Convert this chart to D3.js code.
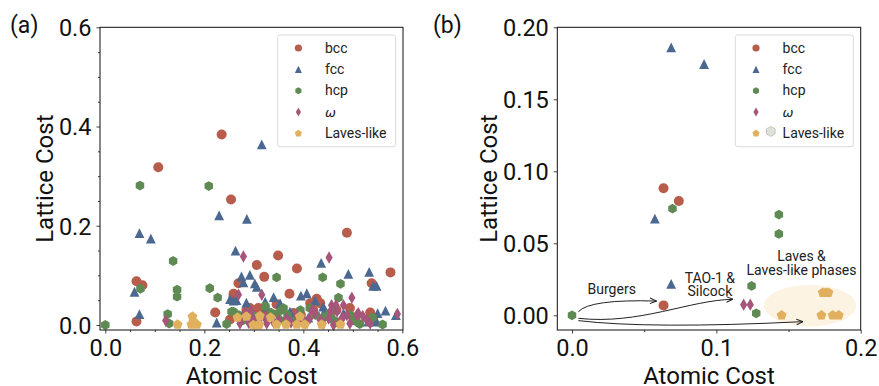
<!DOCTYPE html>
<html>
<head>
<meta charset="utf-8">
<script src="https://cdn.jsdelivr.net/npm/d3@7"></script>
<style>
  body { margin: 0; background: #fff; }
  svg { display: block; font-family: Roboto, "DejaVu Sans", sans-serif; }
  .tick text { fill: #111; }
</style>
</head>
<body>
<svg id="chart" width="879" height="386"></svg>
<script>
// ---- data: [atomic cost, lattice cost] ----
const seriesNames = ["bcc", "fcc", "hcp", "ω", "Laves-like"];

const bccA = [[0.235,0.384],[0.107,0.318],[0.254,0.253],[0.488,0.186],[0.349,0.140],[0.387,0.114],[0.306,0.121],[0.321,0.097],[0.576,0.106],[0.538,0.084],[0.063,0.088],[0.075,0.080],[0.269,0.084],[0.372,0.063],[0.259,0.063],[0.222,0.025],[0.063,0.007],[0.427,0.053],[0.346,0.042],[0.535,0.025],[0.292,0.034],[0.309,0.034],[0.252,0.011],[0.434,0.044],[0.494,0.034],[0.467,0.030],[0.380,0.024],[0.541,0.010],[0.259,0.024],[0.414,0.044],[0.259,0.057],[0.330,0.020],[0.455,0.015],[0.398,0.008],[0.285,0.030],[0.318,0.028],[0.395,0.020],[0.420,0.030],[0.505,0.015],[0.470,0.005]];
const fccA = [[0.316,0.364],[0.230,0.221],[0.286,0.214],[0.069,0.185],[0.092,0.174],[0.263,0.150],[0.436,0.125],[0.533,0.107],[0.491,0.103],[0.292,0.101],[0.275,0.098],[0.302,0.084],[0.279,0.086],[0.306,0.077],[0.548,0.079],[0.541,0.079],[0.059,0.067],[0.407,0.064],[0.395,0.059],[0.340,0.056],[0.252,0.052],[0.424,0.049],[0.323,0.047],[0.265,0.050],[0.069,0.022],[0.440,0.037],[0.550,0.024],[0.566,0.029],[0.225,0.005],[0.587,0.020],[0.326,0.037],[0.353,0.044],[0.373,0.027],[0.481,0.024],[0.531,0.007],[0.444,0.030],[0.259,0.049],[0.548,0.007],[0.300,0.012],[0.410,0.015],[0.335,0.020],[0.380,0.012],[0.455,0.020],[0.500,0.010],[0.285,0.045]];
const hcpA = [[0,0],[0.070,0.281],[0.209,0.280],[0.137,0.129],[0.145,0.071],[0.145,0.057],[0.071,0.073],[0.211,0.074],[0.227,0.055],[0.346,0.096],[0.439,0.096],[0.475,0.083],[0.471,0.055],[0.126,0.022],[0.129,0.003],[0.245,0.002],[0.259,0.027],[0.360,0.034],[0.323,0.038],[0.413,0.034],[0.560,0.001],[0.514,0.002],[0.494,0.020],[0.299,0.020],[0.393,0.017],[0.453,0.024],[0.460,0.010],[0.353,0.010],[0.279,0.010],[0.255,0.027],[0.293,0.023],[0.347,0.023],[0.368,0.020],[0.394,0.030],[0.444,0.017],[0.356,0.030],[0.270,0.020],[0.310,0.015],[0.335,0.025],[0.383,0.008],[0.425,0.020],[0.465,0.030],[0.505,0.008],[0.540,0.015]];
const omegaA = [[0.279,0.138],[0.452,0.136],[0.316,0.061],[0.269,0.061],[0.498,0.055],[0.122,0.009],[0.590,0.022],[0.511,0.024],[0.457,0.040],[0.481,0.040],[0.468,0.027],[0.299,0.010],[0.285,0.018],[0.290,0.004],[0.272,0.003],[0.326,0.003],[0.322,0.015],[0.366,0.013],[0.387,0.020],[0.413,0.013],[0.424,0.024],[0.434,0.010],[0.451,0.013],[0.475,0.007],[0.528,0.010],[0.535,0.003],[0.494,0.003],[0.488,0.020],[0.461,0.000],[0.508,0.020],[0.375,0.005],[0.440,0.003],[0.480,0.015],[0.276,0.012],[0.310,0.008],[0.350,0.010],[0.404,0.004],[0.283,0.025],[0.295,0.028],[0.340,0.005],[0.395,0.010],[0.418,0.030],[0.455,0.028],[0.466,0.040],[0.520,0.018]];
const lavesA = [[0.146,0.001],[0.176,0.017],[0.174,0.001],[0.185,0.001],[0.178,0.007],[0.267,0.015],[0.311,0.001],[0.312,0.018],[0.334,0.015],[0.346,0.001],[0.365,0.001],[0.387,0.001],[0.403,0.001],[0.437,0.001],[0.475,0.001],[0.285,0.017],[0.299,0.000],[0.393,0.017],[0.309,0.000]];

const bccB = [[0.0634,0.0882],[0.074,0.0794],[0.0634,0.0069]];
const fccB = [[0.0687,0.186],[0.0915,0.1745],[0.0574,0.0671],[0.0687,0.0218]];
const hcpB = [[0.0696,0.0741],[0.1433,0.0699],[0.1433,0.0565],[0,0],[0.1244,0.0204],[0.1276,0.0014]];
const omegaB = [[0.1189,0.0074],[0.1235,0.0074]];
const lavesB = [[0.1452,0],[0.1728,0],[0.1806,0],[0.1848,0],[0.1737,0.0157],[0.1757,0.0157],[0.1776,0.0157]];

const ticksA = [0, 0.2, 0.4, 0.6];
const ticksBx = [0, 0.1, 0.2];
const ticksBy = [0, 0.05, 0.1, 0.15, 0.2];

// annotations in panel (b), data coordinates
const annoLabels = [
  { lines: ["Burgers"], x: 0.0275, y: 0.0145 },
  { lines: ["TAO-1 &", "Silcock"], x: 0.0955, y: 0.0225 },
  { lines: ["Laves &", "Laves-like phases"], x: 0.159, y: 0.0375 }
];
// arrows: start, control(s), end
const arrowsB = [
  [[0.0044,0.0025],[0.0124,0.0113],[0.0585,0.0099]],
  [[0.0044,-0.0021],[0.047,-0.0067],[0.0816,0.0107],[0.1115,0.0111]],
  [[0.0044,-0.0037],[0.054,-0.0096],[0.16,-0.0044]]
];
const highlight = { cx: 0.1649, cy: 0.0067, rx: 0.0319, ry: 0.0144 };

const colors = ["#b85c4c", "#4b6990", "#5f8a53", "#a5567a", "#e0b05f"];

// ---- marker shapes ----
function poly(n, r, rot) {
  let pts = [];
  for (let i = 0; i < n; i++) {
    let a = rot + i * 2 * Math.PI / n;
    pts.push([r * Math.sin(a), -r * Math.cos(a)]);
  }
  return "M" + pts.map(p => p[0].toFixed(2) + "," + p[1].toFixed(2)).join("L") + "Z";
}
function markerPath(k, s) {
  if (k === 0) return d3.symbol(d3.symbolCircle, Math.PI * (5 * s) * (5 * s))();
  if (k === 1) { let r = 4.9 * s; return `M0,${-r}L${r},${r}L${-r},${r}Z`; }
  if (k === 2) return poly(6, 4.9 * s, 0);
  if (k === 3) { let h = 6.2 * s, w = 3.6 * s; return `M0,${-h}L${w},0L0,${h}L${-w},0Z`; }
  return poly(5, 5.2 * s, 0);
}

const svg = d3.select("#chart");

function drawPanel(cfg) {
  let x = d3.scaleLinear().domain(cfg.xDom).range([cfg.left, cfg.right]);
  let y = d3.scaleLinear().domain(cfg.yDom).range([cfg.bottom, cfg.top]);
  let g = svg.append("g");

  // minor ticks
  g.append("g").attr("transform", "translate(0," + cfg.bottom + ")")
    .call(d3.axisBottom(x).tickValues(cfg.xMinor).tickSize(2).tickFormat(""))
    .call(a => a.select(".domain").remove());
  if (cfg.yMinor.length)
    g.append("g").attr("transform", "translate(" + cfg.left + ",0)")
      .call(d3.axisLeft(y).tickValues(cfg.yMinor).tickSize(2).tickFormat(""))
      .call(a => a.select(".domain").remove());

  let xa = g.append("g").attr("transform", "translate(0," + cfg.bottom + ")")
    .call(d3.axisBottom(x).tickValues(cfg.xTicks).tickSize(3.5).tickPadding(6).tickFormat(d3.format(cfg.xFmt)));
  let ya = g.append("g").attr("transform", "translate(" + cfg.left + ",0)")
    .call(d3.axisLeft(y).tickValues(cfg.yTicks).tickSize(3.5).tickPadding(5).tickFormat(d3.format(cfg.yFmt)));
  [xa, ya].forEach(a => {
    a.select(".domain").remove();
    a.selectAll("text").attr("font-size", 23.5).attr("font-family", "Roboto");
  });
  ya.selectAll("text").attr("dy", "0.36em");
  g.selectAll(".tick line").attr("stroke", "#111").attr("stroke-width", 0.8);

  if (cfg.extra) cfg.extra(g, x, y);

  // markers
  cfg.series.forEach((pts, k) => {
    g.append("g").selectAll("path").data(pts).enter().append("path")
      .attr("d", markerPath(k, 1))
      .attr("transform", d => "translate(" + x(d[0]) + "," + y(d[1]) + ")")
      .attr("fill", colors[k]);
  });

  if (cfg.after) cfg.after(g, x, y);

  // frame
  g.append("rect").attr("x", cfg.left).attr("y", cfg.top)
    .attr("width", cfg.right - cfg.left).attr("height", cfg.bottom - cfg.top)
    .attr("fill", "none").attr("stroke", "#111").attr("stroke-width", 1);

  // axis labels
  g.append("text").attr("x", (cfg.left + cfg.right) / 2).attr("y", 383.5)
    .attr("text-anchor", "middle").attr("font-size", 24).attr("fill", "#111").text("Atomic Cost");
  g.append("text").attr("transform", "translate(" + cfg.yLabelX + "," + (cfg.top + cfg.bottom) / 2 + ") rotate(-90)")
    .attr("text-anchor", "middle").attr("font-size", 24).attr("fill", "#111").text("Lattice Cost");
  g.append("text").attr("x", cfg.tagX).attr("y", 33).attr("font-size", 23).attr("fill", "#111").text(cfg.tag);

  // legend
  let lg = g.append("g").attr("transform", "translate(" + cfg.legX + ",35)");
  lg.append("rect").attr("width", 118).attr("height", 111.7).attr("rx", 2.5)
    .attr("fill", "#fff").attr("fill-opacity", 0.85).attr("stroke", "#d6d6d6").attr("stroke-width", 0.9);
  seriesNames.forEach((nm, k) => {
    let cy = 13 + k * 21.35;
    lg.append("path").attr("d", markerPath(k, 0.72))
      .attr("transform", "translate(20.7," + cy + ")").attr("fill", colors[k]);
    let t = lg.append("text").attr("x", 47.3).attr("y", cy + 4.6)
      .attr("font-size", 14).attr("fill", "#222").text(nm);
    if (k === 3) t.attr("font-family", "DejaVu Sans").attr("font-style", "italic").attr("font-size", 13);
  });
  if (cfg.greyHex)
    lg.append("path").attr("d", poly(6, 5, 0)).attr("transform", "translate(35.5," + (13 + 4 * 21.35 - 2) + ")")
      .attr("fill", "#dfe2d8").attr("stroke", "#b9bcb1").attr("stroke-width", 0.8);
}

// panel (a)
drawPanel({
  left: 100, right: 403, top: 27.3, bottom: 330,
  xDom: [-0.0107, 0.6013], yDom: [-0.0101, 0.6],
  xTicks: ticksA, yTicks: ticksA, xFmt: ".1f", yFmt: ".1f",
  xMinor: [0.05, 0.1, 0.15, 0.25, 0.3, 0.35, 0.45, 0.5, 0.55],
  yMinor: [0.05, 0.1, 0.15, 0.25, 0.3, 0.35, 0.45, 0.5, 0.55],
  series: [bccA, fccA, hcpA, omegaA, lavesA],
  yLabelX: 53, tag: "(a)", tagX: 10, legX: 277.7
});

// panel (b)
drawPanel({
  left: 557.3, right: 860.7, top: 27.3, bottom: 330,
  xDom: [-0.0102, 0.2], yDom: [-0.0102, 0.2],
  xTicks: ticksBx, yTicks: ticksBy, xFmt: ".1f", yFmt: ".2f",
  xMinor: [0.05, 0.15], yMinor: [],
  series: [bccB, fccB, hcpB, omegaB, lavesB],
  yLabelX: 496.5, tag: "(b)", tagX: 433, legX: 735.3, greyHex: true,
  extra: function (g, x, y) {
    g.append("ellipse").attr("cx", x(highlight.cx)).attr("cy", y(highlight.cy))
      .attr("rx", x(highlight.cx + highlight.rx) - x(highlight.cx))
      .attr("ry", y(highlight.cy) - y(highlight.cy + highlight.ry))
      .attr("fill", "#fdf3e2");
  },
  after: function (g, x, y) {
    svg.append("defs").append("marker").attr("id", "head")
      .attr("viewBox", "0 0 8 8").attr("refX", 7.5).attr("refY", 4)
      .attr("markerWidth", 8).attr("markerHeight", 8).attr("markerUnits", "userSpaceOnUse")
      .attr("orient", "auto")
      .append("path").attr("d", "M1,1.2L7.5,4L1,6.8").attr("fill", "none")
      .attr("stroke", "#222").attr("stroke-width", 1);
    arrowsB.forEach(a => {
      let p = a.map(d => [x(d[0]), y(d[1])]);
      let d = "M" + p[0] + (p.length === 3 ? "Q" + p[1] + " " + p[2] : "C" + p[1] + " " + p[2] + " " + p[3]);
      g.append("path").attr("d", d).attr("fill", "none").attr("stroke", "#222")
        .attr("stroke-width", 1).attr("marker-end", "url(#head)");
    });
    annoLabels.forEach(l => {
      let t = g.append("text").attr("text-anchor", "middle").attr("font-size", 14).attr("fill", "#222");
      l.lines.forEach((s, i) => {
        t.append("tspan").attr("x", x(l.x)).attr("y", y(l.y) + i * 13.4).text(s);
      });
    });
  }
});
</script>
</body>
</html>
